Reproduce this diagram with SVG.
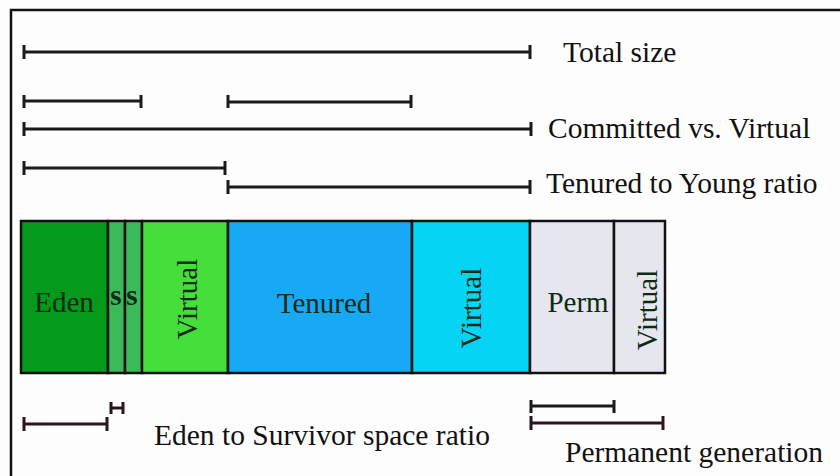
<svg xmlns="http://www.w3.org/2000/svg" width="840" height="476" viewBox="0 0 840 476">
<style>
.bar{stroke:#1a1a1a;stroke-width:3;fill:none}
.bar2{stroke:#2a1420;stroke-width:3;fill:none}
.box{stroke:#111;stroke-width:2.5}
.lbl{font-family:"Liberation Serif",serif;font-size:29.5px;fill:#111}
.in{font-family:"Liberation Serif",serif;font-size:29px;fill:#0c2a14}
.s{font-weight:bold}
</style>
<rect x="0" y="0" width="840" height="476" fill="#fdfdfd"/>
<path d="M11,476 V10 H840" stroke="#111" stroke-width="2.5" fill="none"/>
<g id="connectors">
<path class="bar" d="M24,52 H530 M24,45 V59 M530,45 V59"/>
<path class="bar" d="M24,101 H141 M24,95 V108 M141,95 V108"/>
<path class="bar" d="M228,102 H411 M228,95 V108 M411,95 V108"/>
<path class="bar" d="M24,129 H531 M24,122 V136 M531,122 V136"/>
<path class="bar" d="M24,168 H225 M24,161 V175 M225,161 V175"/>
<path class="bar" d="M228,187 H530 M228,180 V194 M530,180 V194"/>
<path class="bar2" d="M24,424 H107 M24,417 V431 M107,417 V431"/>
<path class="bar2" d="M111,408 H123 M111,402 V414 M123,402 V414"/>
<path class="bar" d="M531,406 H614 M531,400 V413 M614,400 V413"/>
<path class="bar2" d="M531,423 H663 M531,416 V430 M663,416 V430"/>
</g>
<g id="eden"><rect class="box" x="21" y="221" width="87" height="152" fill="#069a1c"/><text class="in" x="64" y="312" text-anchor="middle">Eden</text></g>
<g id="s1"><rect class="box" x="108" y="221" width="17" height="152" fill="#3cba5a"/><text class="in s" x="116" y="305" text-anchor="middle">s</text></g>
<g id="s2"><rect class="box" x="125" y="221" width="17" height="152" fill="#3cba5a"/><text class="in s" x="132" y="305" text-anchor="middle">s</text></g>
<g id="virtual1"><rect class="box" x="142" y="221" width="86" height="152" fill="#46de3a"/><text class="in" transform="translate(197,299) rotate(-90)" text-anchor="middle">Virtual</text></g>
<g id="tenured"><rect class="box" x="228" y="221" width="184" height="152" fill="#17a9f5"/><text class="in" x="324" y="313" text-anchor="middle">Tenured</text></g>
<g id="virtual2"><rect class="box" x="412" y="221" width="118" height="152" fill="#06d4f4"/><text class="in" transform="translate(481,308) rotate(-90)" text-anchor="middle">Virtual</text></g>
<g id="perm"><rect class="box" x="530" y="221" width="84" height="152" fill="#e6e6ee"/><text class="in" x="578" y="312" text-anchor="middle">Perm</text></g>
<g id="virtual3"><rect class="box" x="614" y="221" width="51" height="152" fill="#e6e6ee"/><text class="in" transform="translate(657,310) rotate(-90)" text-anchor="middle">Virtual</text></g>
<g id="labels">
<text class="lbl" x="563" y="62">Total size</text>
<text class="lbl" x="548" y="138">Committed vs. Virtual</text>
<text class="lbl" x="546" y="193">Tenured to Young ratio</text>
<text class="lbl" x="154" y="445">Eden to Survivor space ratio</text>
<text class="lbl" x="565" y="462">Permanent generation</text>
</g>
</svg>
